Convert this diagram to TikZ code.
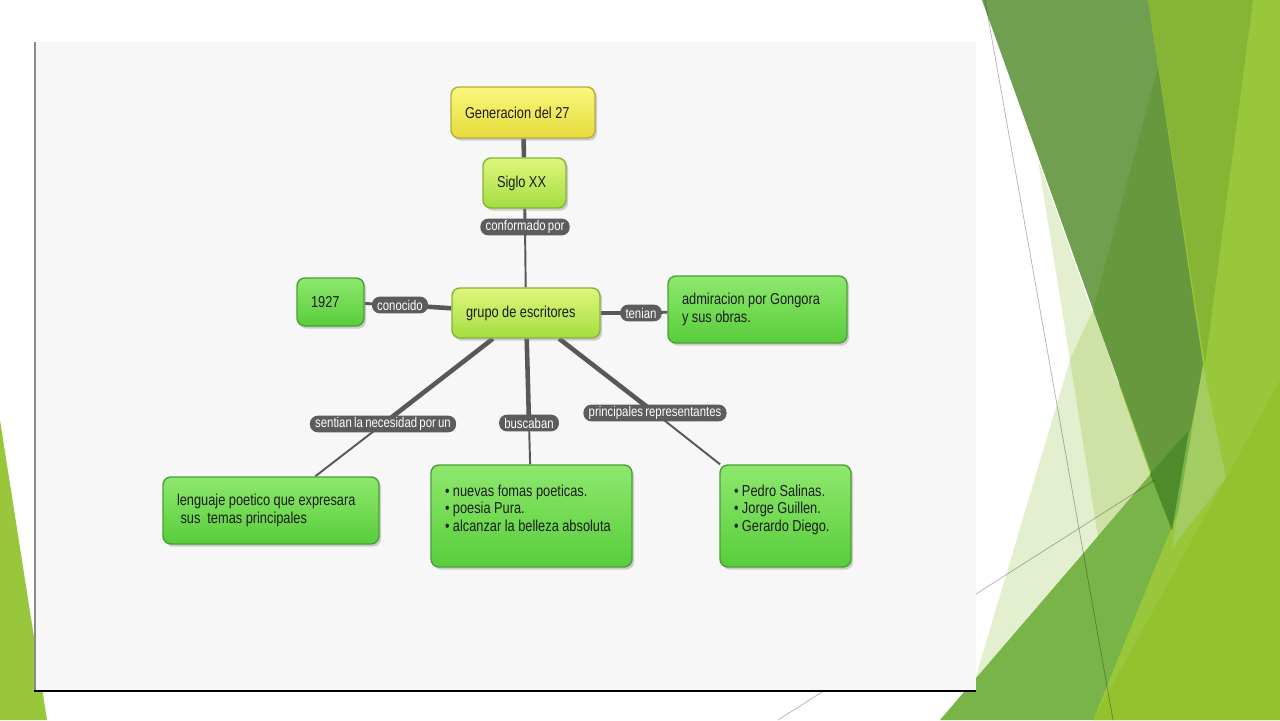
\documentclass[tikz,border=0pt]{standalone}
\usepackage{fontspec}
\setmainfont{Liberation Sans}[FakeStretch=0.81,WordSpace=0.72]
\usetikzlibrary{shadows}
\definecolor{ink}{HTML}{1C1C1C}
\definecolor{wire}{HTML}{585858}
\definecolor{tagfill}{HTML}{5C5C5C}
\definecolor{panel}{HTML}{F7F7F7}
\definecolor{yellowtop}{HTML}{FBF77E}
\definecolor{yellowbot}{HTML}{E5DC3A}
\definecolor{yellowedge}{HTML}{B5AC3C}
\definecolor{limetop}{HTML}{DFF67C}
\definecolor{limebot}{HTML}{A4DD40}
\definecolor{limeedge}{HTML}{82B43A}
\definecolor{greentop}{HTML}{8EE86D}
\definecolor{greenbot}{HTML}{58CD3B}
\definecolor{greenedge}{HTML}{47A033}
\definecolor{facetlime}{HTML}{98C73B}
\definecolor{facetpale}{HTML}{E3EFCF}
\definecolor{facetpaler}{HTML}{CEE2A5}
\definecolor{facetmuted}{HTML}{70A04F}
\definecolor{facetdark}{HTML}{67983E}
\definecolor{facetcolumn}{HTML}{86B535}
\definecolor{facetmeadow}{HTML}{79B448}
\definecolor{facetnotch}{HTML}{4E8B2A}
\definecolor{facetstrip}{HTML}{A3CC62}
\definecolor{facetlow}{HTML}{92C22E}
\pgfdeclarelayer{deco}
\pgfdeclarelayer{wires}
\pgfsetlayers{deco,wires,main}
\begin{document}
\begin{tikzpicture}[x=0.02cm,y=-0.02cm,
        every node/.style={font=\fontsize{9}{10}\selectfont,text=ink},
        box/.style={draw,rounded corners=4.5pt,line width=0.8pt,align=flush left,inner xsep=0.28cm,inner ysep=2pt,
            execute at begin node={\spaceskip=0.22em\relax},
            drop shadow={opacity=0.35,shadow xshift=1.2pt,shadow yshift=-1.5pt}},
        yellowbox/.style={box,draw=yellowedge,top color=yellowtop,bottom color=yellowbot},
        limebox/.style={box,draw=limeedge,top color=limetop,bottom color=limebot},
        greenbox/.style={box,draw=greenedge,top color=greentop,bottom color=greenbot},
        tag/.style={fill=tagfill,text=white,rounded corners=4.5pt,inner xsep=3pt,inner ysep=1pt,
            minimum height=9.5pt,font=\fontsize{8}{9}\selectfont},
        thickwire/.style={draw=wire,line width=2.6pt},
        midwire/.style={draw=wire,line width=1.6pt},
        thinwire/.style={draw=wire,line width=1.1pt},
        hairline/.style={draw=black,opacity=0.3,line width=0.4pt}]
    \useasboundingbox (0,0) rectangle (1280,720);
    \begin{pgfonlayer}{deco}
        \fill[white] (0,0) rectangle (1280,720);
        \fill[facetlime] (0,420) -- (47,720) -- (0,720) -- cycle;
        \fill[facetlime] (1148,0) -- (1280,0) -- (1280,720) -- (1093,720) -- cycle;
        \fill[facetpale] (1038,160) -- (1150,474) -- (940,720) -- (963,720) -- (1070,360) -- cycle;
        \fill[facetpaler] (1093,310) -- (1070,360) -- (1098,537) -- (1150,474) -- cycle;
        \fill[facetmuted] (982,0) -- (1148,0) -- (1203,365) -- (1172,530) -- cycle;
        \fill[facetdark] (1158,67) -- (1093,310) -- (1172,530) -- (1203,365) -- cycle;
        \fill[facetcolumn] (1148,0) -- (1253,0) -- (1205,365) -- cycle;
        \fill[facetmeadow] (940,720) -- (1189,430) -- (1205,445) -- (1093,720) -- cycle;
        \fill[facetnotch] (1150,474) -- (1189,430) -- (1172,530) -- cycle;
        \fill[facetstrip] (1203,365) -- (1226,478) -- (1172,548) -- cycle;
        \fill[facetlow] (1280,380) -- (1280,720) -- (1093,720) -- cycle;
        \draw[hairline] (985,0) -- (1113,720);
        \draw[hairline] (778,720) -- (1155,480);
        \fill[panel] (35,42) rectangle (976,691);
        \draw[black!45,line width=0.6pt] (35,42) -- (35,691);
        \draw[black,line width=1.2pt] (34,691) -- (976,691);
    \end{pgfonlayer}
    \node[yellowbox,text width=2.32cm,minimum height=1.02cm] (gen) at (523,112.5) {Generacion del 27};
    \node[limebox,text width=1.1cm,minimum height=1.0cm] (siglo) at (524.5,183) {Siglo XX};
    \node[limebox,text width=2.4cm,minimum height=1.0cm] (grupo) at (526,313) {grupo de escritores};
    \node[greenbox,text width=0.78cm,minimum height=0.96cm] (year) at (330.5,302) {1927};
    \node[greenbox,text width=3.02cm,minimum height=1.34cm] (admira) at (757.5,309.5) {admiracion por Gongora\\y sus obras.};
    \node[greenbox,text width=3.76cm,minimum height=1.34cm] (lengua) at (271,510.5)
        {lenguaje poetico que expresara\\\hspace*{2pt}sus~ temas principales};
    \node[greenbox,text width=3.46cm,minimum height=2.04cm] (nuevas) at (531.5,516)
        {\textbullet\ nuevas fomas poeticas.\\\textbullet\ poesia Pura.\\\textbullet\ alcanzar la belleza absoluta\rule[-9pt]{0pt}{0pt}};
    \node[greenbox,text width=2.06cm,minimum height=2.04cm] (autores) at (785.5,516)
        {\textbullet\ Pedro Salinas.\\\textbullet\ Jorge Guillen.\\\textbullet\ Gerardo Diego.\rule[-9pt]{0pt}{0pt}};
    \node[tag] (conforma) at (525,227) {conformado por};
    \node[tag] (conoce) at (400,305) {conocido};
    \node[tag] (tiene) at (641,313) {tenian};
    \node[tag] (siente) at (383,424) {sentian la necesidad por un};
    \node[tag] (busca) at (529,423) {buscaban};
    \node[tag] (repres) at (655,413) {principales representantes};
    \begin{pgfonlayer}{wires}
        \draw[thickwire] (gen) -- (siglo);
        \draw[midwire] (siglo) -- (conforma.center);
        \draw[thinwire] (conforma.center) -- (grupo);
        \draw[thickwire] (grupo) -- (conoce.center);
        \draw[midwire] (conoce.center) -- (year);
        \draw[thickwire] (grupo) -- (tiene.center);
        \draw[midwire] (tiene.center) -- (admira);
        \draw[thickwire] (grupo) -- (siente.center);
        \draw[thinwire] (siente.center) -- (lengua);
        \draw[thickwire] (grupo) -- (busca.center);
        \draw[thinwire] (busca.center) -- (nuevas);
        \draw[thickwire] (grupo) -- (repres.center);
        \draw[thinwire] (repres.center) -- (autores);
    \end{pgfonlayer}
\end{tikzpicture}
\end{document}
